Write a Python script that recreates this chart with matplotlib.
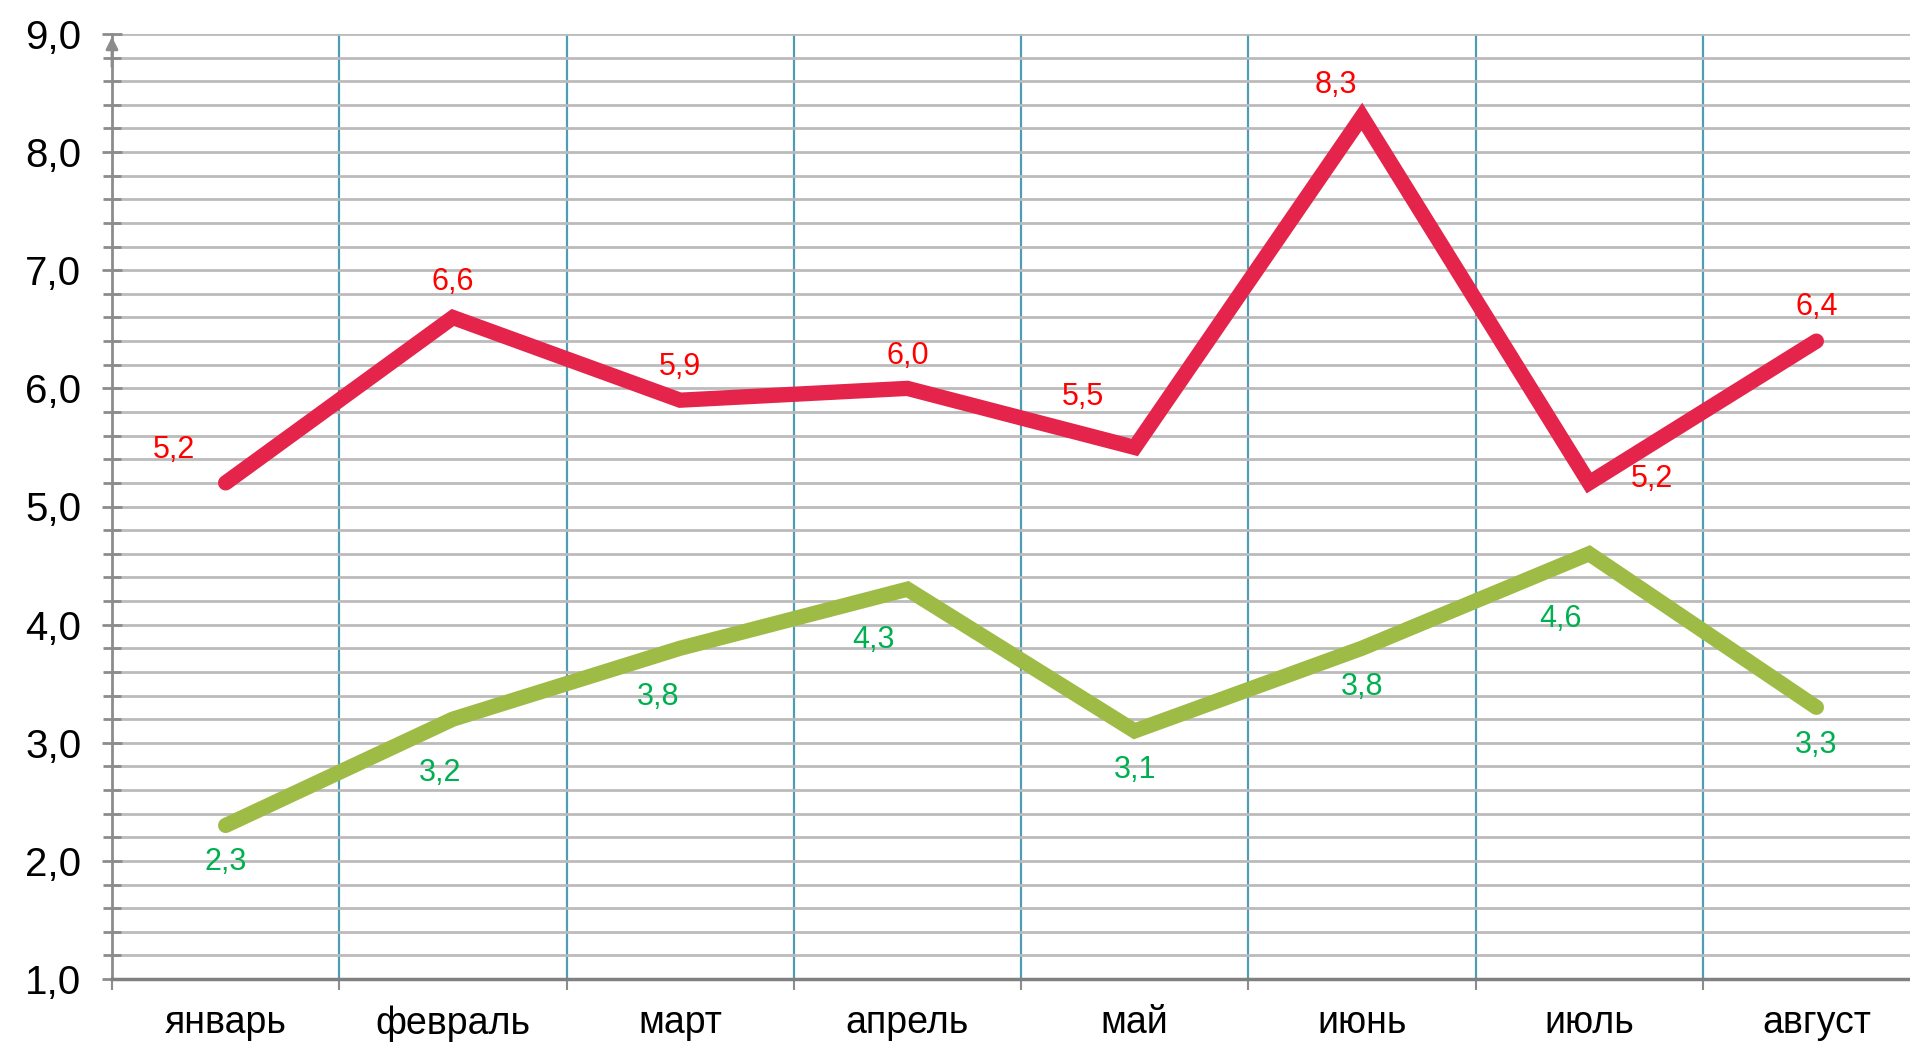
import matplotlib
matplotlib.use("Agg")
import matplotlib.pyplot as plt
from matplotlib.ticker import MultipleLocator, FuncFormatter

plt.rcParams['font.family'] = ['Liberation Sans', 'DejaVu Sans']

months = ["январь", "февраль", "март", "апрель", "май", "июнь", "июль", "август"]
series_red = [5.2, 6.6, 5.9, 6.0, 5.5, 8.3, 5.2, 6.4]
series_green = [2.3, 3.2, 3.8, 4.3, 3.1, 3.8, 4.6, 3.3]

# label offsets (pixels)
red_offsets = [(-52, 33), (0, 35), (0, 33), (0, 32), (-52, 50), (-26, 32), (63, 4), (0, 34)]
green_offsets = [(0, -37), (-13, -54), (-22, -49), (-34, -51), (0, -39), (0, -39), (-29, -65), (0, -38)]

RED = "#E4244A"
GREEN = "#9EBB46"
RED_TXT = "#FF0000"
GREEN_TXT = "#00B050"
TEAL = "#4E9DB3"
GRID = "#BBBBBB"
AXIS = "#8C8C8C"

fig = plt.figure(figsize=(19.10, 10.44), dpi=100)
ax = fig.add_axes([112/1910, 65/1044, 1818/1910, 945/1044])

x = list(range(len(months)))
ax.set_xlim(-0.5, len(months) - 0.5)
ax.set_ylim(1.0, 9.0)

# horizontal grid
ax.yaxis.set_major_locator(MultipleLocator(1.0))
ax.yaxis.set_minor_locator(MultipleLocator(0.2))
ax.grid(axis='y', which='both', color=GRID, linewidth=2.0, zorder=0)

# vertical category separators
ax.set_xticks([i + 0.5 for i in x[:-1]] + [-0.5])
ax.set_xticks(x, minor=True)
ax.set_xticklabels([], minor=False)
ax.set_xticklabels(months, minor=True)
for i in x[:-1]:
    ax.axvline(i + 0.5, color=TEAL, linewidth=1.6, zorder=1)

ax.plot(x, series_red, color=RED, linewidth=11, solid_capstyle='round',
        solid_joinstyle='miter', zorder=3)
ax.plot(x, series_green, color=GREEN, linewidth=11, solid_capstyle='round',
        solid_joinstyle='miter', zorder=3)

for xi, v, off in zip(x, series_red, red_offsets):
    ax.annotate(f"{v:.1f}".replace('.', ','), (xi, v), xytext=off,
                textcoords='offset pixels', ha='center', va='center',
                color=RED_TXT, fontsize=22, zorder=4)
for xi, v, off in zip(x, series_green, green_offsets):
    ax.annotate(f"{v:.1f}".replace('.', ','), (xi, v), xytext=off,
                textcoords='offset pixels', ha='center', va='center',
                color=GREEN_TXT, fontsize=22, zorder=4)

ax.yaxis.set_major_formatter(FuncFormatter(lambda v, p: f"{v:.1f}".replace('.', ',')))
ax.tick_params(axis='y', which='major', direction='inout', length=14, width=2,
               color=AXIS, labelsize=29, pad=15)
ax.tick_params(axis='y', which='minor', direction='inout', length=13, width=2,
               color=AXIS)
ax.tick_params(axis='x', which='major', direction='out', length=8, width=1.5,
               color=AXIS)
ax.tick_params(axis='x', which='minor', length=0, labelsize=27, pad=19)

for s in ['top', 'right']:
    ax.spines[s].set_visible(False)
ax.spines['left'].set_color(AXIS)
ax.spines['left'].set_linewidth(2)
ax.spines['bottom'].set_color("#808080")
ax.spines['bottom'].set_linewidth(2.5)
ax.spines['left'].set_zorder(2)

# arrow on top of y axis
ax.annotate('', xy=(-0.5, 9.0), xytext=(-0.5, 8.7),
            xycoords='data', annotation_clip=False,
            arrowprops=dict(arrowstyle='-|>', color=AXIS, lw=2, mutation_scale=18))

fig.savefig("out.png", dpi=100)
